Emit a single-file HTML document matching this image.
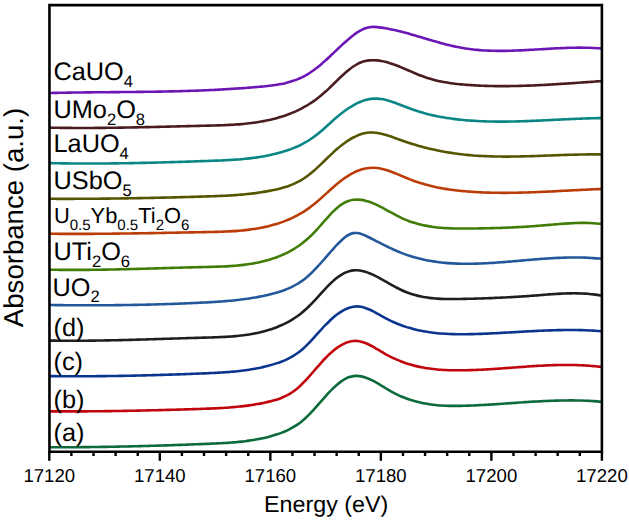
<!DOCTYPE html>
<html><head><meta charset="utf-8"><style>
html,body{margin:0;padding:0;background:#fff;width:629px;height:524px;overflow:hidden}
svg{display:block;text-rendering:geometricPrecision;font-family:"Liberation Sans",sans-serif}
</style></head><body>
<svg width="629" height="524" viewBox="0 0 629 524" font-family="Liberation Sans, sans-serif" fill="#000">
<rect width="629" height="524" fill="#fff"/>
<path d="M49.30 93.02 C49.97 93.00 51.97 92.95 53.30 92.92 C54.63 92.90 55.97 92.87 57.30 92.84 C58.63 92.81 59.97 92.79 61.30 92.76 C62.63 92.74 63.97 92.71 65.30 92.69 C66.63 92.67 67.97 92.64 69.30 92.62 C70.63 92.60 71.97 92.58 73.30 92.56 C74.63 92.54 75.97 92.52 77.30 92.51 C78.63 92.49 79.97 92.47 81.30 92.45 C82.63 92.44 83.97 92.42 85.30 92.41 C86.63 92.39 87.97 92.38 89.30 92.36 C90.63 92.35 91.97 92.34 93.30 92.32 C94.63 92.31 95.97 92.30 97.30 92.28 C98.63 92.27 99.97 92.26 101.30 92.25 C102.63 92.23 103.97 92.22 105.30 92.21 C106.63 92.20 107.97 92.19 109.30 92.18 C110.63 92.17 111.97 92.15 113.30 92.14 C114.63 92.13 115.97 92.12 117.30 92.11 C118.63 92.10 119.97 92.09 121.30 92.07 C122.63 92.06 123.97 92.05 125.30 92.04 C126.63 92.03 127.97 92.01 129.30 92.00 C130.63 91.99 131.97 91.97 133.30 91.96 C134.63 91.95 135.97 91.93 137.30 91.92 C138.63 91.90 139.97 91.89 141.30 91.87 C142.63 91.86 143.97 91.84 145.30 91.82 C146.63 91.81 147.97 91.79 149.30 91.77 C150.63 91.75 151.97 91.73 153.30 91.71 C154.63 91.69 155.97 91.67 157.30 91.65 C158.63 91.63 159.97 91.60 161.30 91.58 C162.63 91.55 163.97 91.53 165.30 91.50 C166.63 91.48 167.97 91.45 169.30 91.42 C170.63 91.39 171.97 91.36 173.30 91.33 C174.63 91.30 175.97 91.27 177.30 91.23 C178.63 91.20 179.97 91.16 181.30 91.13 C182.63 91.09 183.97 91.05 185.30 91.01 C186.63 90.97 187.97 90.93 189.30 90.89 C190.63 90.85 191.97 90.80 193.30 90.76 C194.63 90.71 195.97 90.66 197.30 90.61 C198.63 90.56 199.97 90.51 201.30 90.46 C202.63 90.40 203.97 90.35 205.30 90.29 C206.63 90.24 207.97 90.18 209.30 90.12 C210.63 90.05 211.97 89.99 213.30 89.93 C214.63 89.86 215.97 89.79 217.30 89.73 C218.63 89.66 219.97 89.58 221.30 89.51 C222.63 89.44 223.97 89.36 225.30 89.29 C226.63 89.21 227.97 89.13 229.30 89.05 C230.63 88.96 231.97 88.88 233.30 88.79 C234.63 88.71 235.97 88.62 237.30 88.53 C238.63 88.43 239.97 88.34 241.30 88.24 C242.63 88.15 243.97 88.05 245.30 87.95 C246.63 87.85 247.97 87.75 249.30 87.64 C250.63 87.53 251.97 87.43 253.30 87.31 C254.63 87.20 255.97 87.09 257.30 86.97 C258.63 86.86 259.97 86.74 261.30 86.62 C262.63 86.49 263.97 86.37 265.30 86.24 C266.63 86.11 267.97 85.97 269.30 85.82 C270.63 85.66 271.97 85.50 273.30 85.32 C274.63 85.14 275.97 84.94 277.30 84.73 C278.63 84.51 279.97 84.27 281.30 84.01 C282.63 83.74 283.97 83.46 285.30 83.14 C286.63 82.82 287.97 82.47 289.30 82.09 C290.63 81.70 291.97 81.29 293.30 80.83 C294.63 80.37 295.97 79.88 297.30 79.35 C298.63 78.81 299.97 78.23 301.30 77.60 C302.63 76.97 303.97 76.30 305.30 75.57 C306.63 74.84 307.97 74.07 309.30 73.23 C310.63 72.39 311.97 71.50 313.30 70.55 C314.63 69.60 315.97 68.58 317.30 67.52 C318.63 66.47 319.97 65.35 321.30 64.20 C322.63 63.06 323.97 61.87 325.30 60.66 C326.63 59.45 327.97 58.21 329.30 56.96 C330.63 55.71 331.97 54.43 333.30 53.17 C334.63 51.90 335.97 50.62 337.30 49.36 C338.63 48.10 339.97 46.83 341.30 45.60 C342.63 44.36 343.97 43.14 345.30 41.95 C346.63 40.77 347.97 39.61 349.30 38.50 C350.63 37.39 351.97 36.30 353.30 35.29 C354.63 34.29 355.97 33.31 357.30 32.44 C358.63 31.57 359.97 30.76 361.30 30.06 C362.63 29.37 363.97 28.75 365.30 28.28 C366.63 27.80 367.97 27.44 369.30 27.21 C370.63 26.98 371.97 26.90 373.30 26.88 C374.63 26.86 375.97 26.97 377.30 27.09 C378.63 27.21 379.97 27.40 381.30 27.59 C382.63 27.78 383.97 27.99 385.30 28.22 C386.63 28.45 387.97 28.70 389.30 28.96 C390.63 29.22 391.97 29.50 393.30 29.79 C394.63 30.08 395.97 30.38 397.30 30.70 C398.63 31.02 399.97 31.35 401.30 31.69 C402.63 32.03 403.97 32.38 405.30 32.73 C406.63 33.09 407.97 33.46 409.30 33.83 C410.63 34.21 411.97 34.59 413.30 34.97 C414.63 35.36 415.97 35.75 417.30 36.14 C418.63 36.53 419.97 36.93 421.30 37.32 C422.63 37.72 423.97 38.12 425.30 38.52 C426.63 38.91 427.97 39.31 429.30 39.71 C430.63 40.10 431.97 40.49 433.30 40.88 C434.63 41.27 435.97 41.65 437.30 42.03 C438.63 42.40 439.97 42.78 441.30 43.14 C442.63 43.50 443.97 43.86 445.30 44.20 C446.63 44.55 447.97 44.88 449.30 45.21 C450.63 45.53 451.97 45.85 453.30 46.14 C454.63 46.44 455.97 46.73 457.30 47.00 C458.63 47.27 459.97 47.52 461.30 47.76 C462.63 48.00 463.97 48.22 465.30 48.43 C466.63 48.64 467.97 48.83 469.30 49.00 C470.63 49.18 471.97 49.34 473.30 49.49 C474.63 49.64 475.97 49.77 477.30 49.90 C478.63 50.02 479.97 50.13 481.30 50.22 C482.63 50.32 483.97 50.41 485.30 50.48 C486.63 50.55 487.97 50.62 489.30 50.67 C490.63 50.72 491.97 50.76 493.30 50.79 C494.63 50.82 495.97 50.85 497.30 50.86 C498.63 50.87 499.97 50.88 501.30 50.87 C502.63 50.87 503.97 50.86 505.30 50.84 C506.63 50.82 507.97 50.80 509.30 50.76 C510.63 50.73 511.97 50.69 513.30 50.65 C514.63 50.60 515.97 50.55 517.30 50.50 C518.63 50.45 519.97 50.39 521.30 50.33 C522.63 50.26 523.97 50.20 525.30 50.13 C526.63 50.06 527.97 49.98 529.30 49.91 C530.63 49.83 531.97 49.76 533.30 49.68 C534.63 49.60 535.97 49.52 537.30 49.44 C538.63 49.36 539.97 49.28 541.30 49.20 C542.63 49.12 543.97 49.04 545.30 48.96 C546.63 48.88 547.97 48.80 549.30 48.72 C550.63 48.65 551.97 48.57 553.30 48.50 C554.63 48.43 555.97 48.36 557.30 48.29 C558.63 48.23 559.97 48.16 561.30 48.11 C562.63 48.05 563.97 47.99 565.30 47.95 C566.63 47.90 567.97 47.86 569.30 47.82 C570.63 47.78 571.97 47.75 573.30 47.73 C574.63 47.70 575.97 47.68 577.30 47.67 C578.63 47.67 579.97 47.66 581.30 47.67 C582.63 47.68 583.97 47.69 585.30 47.71 C586.63 47.74 587.97 47.77 589.30 47.82 C590.63 47.86 591.97 47.91 593.30 47.98 C594.63 48.04 595.97 48.12 597.30 48.20 C598.63 48.29 600.53 48.44 601.30 48.50 C602.07 48.56 601.80 48.55 601.90 48.55" stroke="#6c17b5" stroke-width="2.60" fill="none" stroke-linecap="butt" stroke-linejoin="round"/>
<path d="M49.30 127.63 C49.97 127.64 51.97 127.68 53.30 127.70 C54.63 127.73 55.97 127.75 57.30 127.77 C58.63 127.79 59.97 127.81 61.30 127.83 C62.63 127.84 63.97 127.86 65.30 127.87 C66.63 127.89 67.97 127.90 69.30 127.91 C70.63 127.92 71.97 127.93 73.30 127.93 C74.63 127.94 75.97 127.95 77.30 127.95 C78.63 127.95 79.97 127.96 81.30 127.96 C82.63 127.96 83.97 127.96 85.30 127.96 C86.63 127.96 87.97 127.95 89.30 127.95 C90.63 127.94 91.97 127.94 93.30 127.93 C94.63 127.93 95.97 127.92 97.30 127.91 C98.63 127.90 99.97 127.89 101.30 127.88 C102.63 127.87 103.97 127.85 105.30 127.84 C106.63 127.83 107.97 127.81 109.30 127.80 C110.63 127.78 111.97 127.76 113.30 127.74 C114.63 127.73 115.97 127.71 117.30 127.69 C118.63 127.67 119.97 127.65 121.30 127.63 C122.63 127.61 123.97 127.58 125.30 127.56 C126.63 127.54 127.97 127.51 129.30 127.49 C130.63 127.47 131.97 127.44 133.30 127.41 C134.63 127.39 135.97 127.36 137.30 127.33 C138.63 127.31 139.97 127.28 141.30 127.25 C142.63 127.22 143.97 127.19 145.30 127.17 C146.63 127.14 147.97 127.11 149.30 127.08 C150.63 127.05 151.97 127.01 153.30 126.98 C154.63 126.95 155.97 126.92 157.30 126.89 C158.63 126.86 159.97 126.83 161.30 126.79 C162.63 126.76 163.97 126.73 165.30 126.70 C166.63 126.66 167.97 126.63 169.30 126.60 C170.63 126.56 171.97 126.53 173.30 126.50 C174.63 126.46 175.97 126.43 177.30 126.40 C178.63 126.36 179.97 126.33 181.30 126.30 C182.63 126.26 183.97 126.23 185.30 126.20 C186.63 126.16 187.97 126.13 189.30 126.10 C190.63 126.06 191.97 126.03 193.30 126.00 C194.63 125.97 195.97 125.93 197.30 125.90 C198.63 125.87 199.97 125.84 201.30 125.80 C202.63 125.77 203.97 125.74 205.30 125.71 C206.63 125.68 207.97 125.65 209.30 125.62 C210.63 125.58 211.97 125.55 213.30 125.51 C214.63 125.48 215.97 125.44 217.30 125.40 C218.63 125.36 219.97 125.32 221.30 125.27 C222.63 125.22 223.97 125.17 225.30 125.11 C226.63 125.05 227.97 124.99 229.30 124.92 C230.63 124.85 231.97 124.78 233.30 124.69 C234.63 124.61 235.97 124.52 237.30 124.42 C238.63 124.32 239.97 124.22 241.30 124.10 C242.63 123.99 243.97 123.86 245.30 123.72 C246.63 123.59 247.97 123.44 249.30 123.29 C250.63 123.13 251.97 122.96 253.30 122.78 C254.63 122.60 255.97 122.41 257.30 122.20 C258.63 121.99 259.97 121.77 261.30 121.54 C262.63 121.30 263.97 121.05 265.30 120.79 C266.63 120.52 267.97 120.24 269.30 119.95 C270.63 119.65 271.97 119.34 273.30 119.01 C274.63 118.67 275.97 118.33 277.30 117.96 C278.63 117.59 279.97 117.20 281.30 116.79 C282.63 116.38 283.97 115.94 285.30 115.49 C286.63 115.03 287.97 114.54 289.30 114.03 C290.63 113.52 291.97 112.98 293.30 112.41 C294.63 111.85 295.97 111.25 297.30 110.62 C298.63 109.99 299.97 109.33 301.30 108.63 C302.63 107.93 303.97 107.20 305.30 106.43 C306.63 105.66 307.97 104.86 309.30 104.01 C310.63 103.16 311.97 102.28 313.30 101.35 C314.63 100.43 315.97 99.46 317.30 98.45 C318.63 97.43 319.97 96.38 321.30 95.27 C322.63 94.17 323.97 93.01 325.30 91.82 C326.63 90.62 327.97 89.37 329.30 88.10 C330.63 86.84 331.97 85.53 333.30 84.23 C334.63 82.93 335.97 81.61 337.30 80.31 C338.63 79.02 339.97 77.72 341.30 76.47 C342.63 75.22 343.97 73.98 345.30 72.81 C346.63 71.64 347.97 70.50 349.30 69.45 C350.63 68.40 351.97 67.41 353.30 66.51 C354.63 65.62 355.97 64.80 357.30 64.10 C358.63 63.40 359.97 62.81 361.30 62.31 C362.63 61.81 363.97 61.41 365.30 61.10 C366.63 60.78 367.97 60.56 369.30 60.41 C370.63 60.27 371.97 60.20 373.30 60.20 C374.63 60.20 375.97 60.28 377.30 60.41 C378.63 60.54 379.97 60.74 381.30 60.98 C382.63 61.22 383.97 61.52 385.30 61.85 C386.63 62.18 387.97 62.56 389.30 62.97 C390.63 63.38 391.97 63.82 393.30 64.29 C394.63 64.76 395.97 65.26 397.30 65.78 C398.63 66.30 399.97 66.84 401.30 67.39 C402.63 67.94 403.97 68.51 405.30 69.08 C406.63 69.65 407.97 70.23 409.30 70.80 C410.63 71.38 411.97 71.96 413.30 72.52 C414.63 73.09 415.97 73.66 417.30 74.20 C418.63 74.74 419.97 75.28 421.30 75.79 C422.63 76.30 423.97 76.79 425.30 77.25 C426.63 77.71 427.97 78.14 429.30 78.55 C430.63 78.96 431.97 79.34 433.30 79.69 C434.63 80.05 435.97 80.38 437.30 80.69 C438.63 81.00 439.97 81.29 441.30 81.56 C442.63 81.83 443.97 82.08 445.30 82.31 C446.63 82.54 447.97 82.76 449.30 82.96 C450.63 83.16 451.97 83.34 453.30 83.51 C454.63 83.68 455.97 83.83 457.30 83.98 C458.63 84.12 459.97 84.25 461.30 84.38 C462.63 84.50 463.97 84.61 465.30 84.72 C466.63 84.83 467.97 84.93 469.30 85.02 C470.63 85.11 471.97 85.20 473.30 85.28 C474.63 85.36 475.97 85.43 477.30 85.50 C478.63 85.57 479.97 85.63 481.30 85.69 C482.63 85.75 483.97 85.80 485.30 85.84 C486.63 85.89 487.97 85.93 489.30 85.96 C490.63 85.99 491.97 86.02 493.30 86.05 C494.63 86.07 495.97 86.09 497.30 86.10 C498.63 86.12 499.97 86.12 501.30 86.13 C502.63 86.13 503.97 86.13 505.30 86.13 C506.63 86.12 507.97 86.11 509.30 86.10 C510.63 86.08 511.97 86.07 513.30 86.04 C514.63 86.02 515.97 86.00 517.30 85.97 C518.63 85.94 519.97 85.90 521.30 85.87 C522.63 85.83 523.97 85.79 525.30 85.74 C526.63 85.70 527.97 85.65 529.30 85.60 C530.63 85.55 531.97 85.50 533.30 85.44 C534.63 85.38 535.97 85.32 537.30 85.26 C538.63 85.20 539.97 85.13 541.30 85.07 C542.63 85.00 543.97 84.93 545.30 84.86 C546.63 84.79 547.97 84.71 549.30 84.64 C550.63 84.56 551.97 84.48 553.30 84.40 C554.63 84.32 555.97 84.24 557.30 84.16 C558.63 84.07 559.97 83.99 561.30 83.90 C562.63 83.82 563.97 83.73 565.30 83.64 C566.63 83.55 567.97 83.46 569.30 83.37 C570.63 83.28 571.97 83.19 573.30 83.10 C574.63 83.00 575.97 82.91 577.30 82.82 C578.63 82.73 579.97 82.63 581.30 82.54 C582.63 82.44 583.97 82.35 585.30 82.26 C586.63 82.16 587.97 82.07 589.30 81.97 C590.63 81.88 591.97 81.79 593.30 81.69 C594.63 81.60 595.97 81.51 597.30 81.41 C598.63 81.32 600.53 81.19 601.30 81.14 C602.07 81.09 601.80 81.11 601.90 81.10" stroke="#4a1c20" stroke-width="2.60" fill="none" stroke-linecap="butt" stroke-linejoin="round"/>
<path d="M49.30 163.12 C49.97 163.13 51.97 163.17 53.30 163.20 C54.63 163.22 55.97 163.25 57.30 163.27 C58.63 163.29 59.97 163.32 61.30 163.34 C62.63 163.36 63.97 163.37 65.30 163.39 C66.63 163.41 67.97 163.42 69.30 163.44 C70.63 163.45 71.97 163.46 73.30 163.47 C74.63 163.48 75.97 163.49 77.30 163.50 C78.63 163.51 79.97 163.51 81.30 163.52 C82.63 163.52 83.97 163.53 85.30 163.53 C86.63 163.53 87.97 163.53 89.30 163.53 C90.63 163.53 91.97 163.53 93.30 163.52 C94.63 163.52 95.97 163.52 97.30 163.51 C98.63 163.51 99.97 163.50 101.30 163.49 C102.63 163.48 103.97 163.47 105.30 163.46 C106.63 163.45 107.97 163.44 109.30 163.43 C110.63 163.42 111.97 163.40 113.30 163.39 C114.63 163.37 115.97 163.36 117.30 163.34 C118.63 163.32 119.97 163.30 121.30 163.28 C122.63 163.26 123.97 163.24 125.30 163.22 C126.63 163.20 127.97 163.18 129.30 163.15 C130.63 163.13 131.97 163.11 133.30 163.08 C134.63 163.06 135.97 163.03 137.30 163.00 C138.63 162.98 139.97 162.95 141.30 162.92 C142.63 162.89 143.97 162.86 145.30 162.83 C146.63 162.80 147.97 162.77 149.30 162.74 C150.63 162.71 151.97 162.67 153.30 162.64 C154.63 162.61 155.97 162.57 157.30 162.54 C158.63 162.50 159.97 162.47 161.30 162.43 C162.63 162.39 163.97 162.36 165.30 162.32 C166.63 162.28 167.97 162.24 169.30 162.20 C170.63 162.16 171.97 162.12 173.30 162.08 C174.63 162.04 175.97 162.00 177.30 161.96 C178.63 161.92 179.97 161.88 181.30 161.84 C182.63 161.79 183.97 161.75 185.30 161.71 C186.63 161.66 187.97 161.62 189.30 161.58 C190.63 161.53 191.97 161.49 193.30 161.44 C194.63 161.40 195.97 161.35 197.30 161.31 C198.63 161.26 199.97 161.22 201.30 161.17 C202.63 161.12 203.97 161.08 205.30 161.03 C206.63 160.98 207.97 160.93 209.30 160.89 C210.63 160.84 211.97 160.79 213.30 160.74 C214.63 160.69 215.97 160.65 217.30 160.59 C218.63 160.54 219.97 160.49 221.30 160.43 C222.63 160.37 223.97 160.31 225.30 160.25 C226.63 160.18 227.97 160.11 229.30 160.04 C230.63 159.97 231.97 159.89 233.30 159.80 C234.63 159.71 235.97 159.62 237.30 159.52 C238.63 159.42 239.97 159.32 241.30 159.20 C242.63 159.09 243.97 158.97 245.30 158.83 C246.63 158.70 247.97 158.56 249.30 158.40 C250.63 158.25 251.97 158.09 253.30 157.91 C254.63 157.74 255.97 157.55 257.30 157.36 C258.63 157.16 259.97 156.95 261.30 156.72 C262.63 156.50 263.97 156.26 265.30 156.01 C266.63 155.75 267.97 155.49 269.30 155.20 C270.63 154.92 271.97 154.62 273.30 154.31 C274.63 153.99 275.97 153.66 277.30 153.31 C278.63 152.96 279.97 152.59 281.30 152.21 C282.63 151.82 283.97 151.42 285.30 150.99 C286.63 150.56 287.97 150.12 289.30 149.65 C290.63 149.17 291.97 148.68 293.30 148.14 C294.63 147.61 295.97 147.06 297.30 146.46 C298.63 145.86 299.97 145.23 301.30 144.55 C302.63 143.87 303.97 143.16 305.30 142.40 C306.63 141.64 307.97 140.83 309.30 139.97 C310.63 139.11 311.97 138.20 313.30 137.24 C314.63 136.27 315.97 135.24 317.30 134.19 C318.63 133.13 319.97 132.01 321.30 130.89 C322.63 129.76 323.97 128.59 325.30 127.42 C326.63 126.25 327.97 125.06 329.30 123.87 C330.63 122.69 331.97 121.49 333.30 120.33 C334.63 119.16 335.97 117.99 337.30 116.86 C338.63 115.74 339.97 114.63 341.30 113.57 C342.63 112.51 343.97 111.49 345.30 110.52 C346.63 109.55 347.97 108.62 349.30 107.75 C350.63 106.88 351.97 106.06 353.30 105.30 C354.63 104.54 355.97 103.83 357.30 103.18 C358.63 102.54 359.97 101.95 361.30 101.43 C362.63 100.92 363.97 100.46 365.30 100.08 C366.63 99.70 367.97 99.38 369.30 99.14 C370.63 98.91 371.97 98.74 373.30 98.66 C374.63 98.57 375.97 98.57 377.30 98.64 C378.63 98.70 379.97 98.85 381.30 99.05 C382.63 99.25 383.97 99.52 385.30 99.83 C386.63 100.14 387.97 100.51 389.30 100.90 C390.63 101.30 391.97 101.74 393.30 102.20 C394.63 102.66 395.97 103.16 397.30 103.66 C398.63 104.17 399.97 104.70 401.30 105.22 C402.63 105.74 403.97 106.27 405.30 106.79 C406.63 107.31 407.97 107.83 409.30 108.32 C410.63 108.82 411.97 109.30 413.30 109.76 C414.63 110.21 415.97 110.66 417.30 111.08 C418.63 111.50 419.97 111.91 421.30 112.30 C422.63 112.69 423.97 113.06 425.30 113.42 C426.63 113.78 427.97 114.12 429.30 114.45 C430.63 114.78 431.97 115.09 433.30 115.39 C434.63 115.69 435.97 115.97 437.30 116.24 C438.63 116.51 439.97 116.77 441.30 117.01 C442.63 117.26 443.97 117.49 445.30 117.71 C446.63 117.93 447.97 118.13 449.30 118.33 C450.63 118.53 451.97 118.71 453.30 118.88 C454.63 119.06 455.97 119.22 457.30 119.37 C458.63 119.53 459.97 119.67 461.30 119.81 C462.63 119.94 463.97 120.06 465.30 120.18 C466.63 120.30 467.97 120.41 469.30 120.51 C470.63 120.61 471.97 120.70 473.30 120.79 C474.63 120.87 475.97 120.95 477.30 121.02 C478.63 121.09 479.97 121.16 481.30 121.21 C482.63 121.27 483.97 121.32 485.30 121.37 C486.63 121.41 487.97 121.45 489.30 121.48 C490.63 121.51 491.97 121.54 493.30 121.56 C494.63 121.58 495.97 121.59 497.30 121.60 C498.63 121.61 499.97 121.62 501.30 121.61 C502.63 121.61 503.97 121.61 505.30 121.60 C506.63 121.59 507.97 121.57 509.30 121.55 C510.63 121.53 511.97 121.51 513.30 121.48 C514.63 121.46 515.97 121.43 517.30 121.39 C518.63 121.36 519.97 121.32 521.30 121.28 C522.63 121.24 523.97 121.20 525.30 121.15 C526.63 121.10 527.97 121.06 529.30 121.00 C530.63 120.95 531.97 120.90 533.30 120.84 C534.63 120.79 535.97 120.73 537.30 120.67 C538.63 120.61 539.97 120.55 541.30 120.49 C542.63 120.43 543.97 120.36 545.30 120.30 C546.63 120.24 547.97 120.17 549.30 120.11 C550.63 120.04 551.97 119.97 553.30 119.91 C554.63 119.84 555.97 119.78 557.30 119.71 C558.63 119.64 559.97 119.58 561.30 119.51 C562.63 119.45 563.97 119.38 565.30 119.32 C566.63 119.26 567.97 119.19 569.30 119.13 C570.63 119.07 571.97 119.01 573.30 118.95 C574.63 118.89 575.97 118.84 577.30 118.78 C578.63 118.73 579.97 118.68 581.30 118.63 C582.63 118.58 583.97 118.53 585.30 118.48 C586.63 118.44 587.97 118.40 589.30 118.36 C590.63 118.32 591.97 118.28 593.30 118.25 C594.63 118.22 595.97 118.19 597.30 118.17 C598.63 118.14 600.53 118.12 601.30 118.10 C602.07 118.09 601.80 118.10 601.90 118.10" stroke="#0b8686" stroke-width="2.60" fill="none" stroke-linecap="butt" stroke-linejoin="round"/>
<path d="M49.30 198.80 C49.97 198.80 51.97 198.81 53.30 198.82 C54.63 198.82 55.97 198.82 57.30 198.83 C58.63 198.83 59.97 198.83 61.30 198.83 C62.63 198.83 63.97 198.84 65.30 198.84 C66.63 198.83 67.97 198.83 69.30 198.83 C70.63 198.83 71.97 198.83 73.30 198.83 C74.63 198.82 75.97 198.82 77.30 198.81 C78.63 198.81 79.97 198.81 81.30 198.80 C82.63 198.79 83.97 198.79 85.30 198.78 C86.63 198.77 87.97 198.76 89.30 198.76 C90.63 198.75 91.97 198.74 93.30 198.73 C94.63 198.72 95.97 198.71 97.30 198.70 C98.63 198.68 99.97 198.67 101.30 198.66 C102.63 198.65 103.97 198.63 105.30 198.62 C106.63 198.61 107.97 198.59 109.30 198.58 C110.63 198.56 111.97 198.54 113.30 198.53 C114.63 198.51 115.97 198.49 117.30 198.48 C118.63 198.46 119.97 198.44 121.30 198.42 C122.63 198.40 123.97 198.38 125.30 198.36 C126.63 198.34 127.97 198.32 129.30 198.30 C130.63 198.28 131.97 198.26 133.30 198.23 C134.63 198.21 135.97 198.19 137.30 198.16 C138.63 198.14 139.97 198.11 141.30 198.09 C142.63 198.06 143.97 198.04 145.30 198.01 C146.63 197.99 147.97 197.96 149.30 197.93 C150.63 197.90 151.97 197.88 153.30 197.85 C154.63 197.82 155.97 197.79 157.30 197.76 C158.63 197.73 159.97 197.70 161.30 197.67 C162.63 197.64 163.97 197.61 165.30 197.58 C166.63 197.55 167.97 197.51 169.30 197.48 C170.63 197.45 171.97 197.41 173.30 197.38 C174.63 197.35 175.97 197.31 177.30 197.28 C178.63 197.24 179.97 197.21 181.30 197.17 C182.63 197.14 183.97 197.10 185.30 197.06 C186.63 197.03 187.97 196.99 189.30 196.95 C190.63 196.91 191.97 196.87 193.30 196.84 C194.63 196.80 195.97 196.76 197.30 196.72 C198.63 196.68 199.97 196.64 201.30 196.60 C202.63 196.56 203.97 196.52 205.30 196.47 C206.63 196.43 207.97 196.39 209.30 196.35 C210.63 196.30 211.97 196.26 213.30 196.21 C214.63 196.16 215.97 196.11 217.30 196.06 C218.63 196.00 219.97 195.95 221.30 195.89 C222.63 195.83 223.97 195.77 225.30 195.70 C226.63 195.63 227.97 195.56 229.30 195.48 C230.63 195.40 231.97 195.32 233.30 195.23 C234.63 195.14 235.97 195.05 237.30 194.95 C238.63 194.85 239.97 194.74 241.30 194.63 C242.63 194.51 243.97 194.39 245.30 194.26 C246.63 194.13 247.97 193.99 249.30 193.84 C250.63 193.69 251.97 193.54 253.30 193.37 C254.63 193.20 255.97 193.03 257.30 192.84 C258.63 192.66 259.97 192.46 261.30 192.25 C262.63 192.05 263.97 191.83 265.30 191.60 C266.63 191.37 267.97 191.13 269.30 190.87 C270.63 190.62 271.97 190.35 273.30 190.07 C274.63 189.79 275.97 189.50 277.30 189.18 C278.63 188.87 279.97 188.54 281.30 188.18 C282.63 187.82 283.97 187.44 285.30 187.02 C286.63 186.60 287.97 186.15 289.30 185.66 C290.63 185.17 291.97 184.64 293.30 184.07 C294.63 183.49 295.97 182.87 297.30 182.20 C298.63 181.52 299.97 180.80 301.30 180.01 C302.63 179.22 303.97 178.38 305.30 177.47 C306.63 176.55 307.97 175.57 309.30 174.53 C310.63 173.49 311.97 172.37 313.30 171.22 C314.63 170.07 315.97 168.86 317.30 167.63 C318.63 166.40 319.97 165.13 321.30 163.85 C322.63 162.58 323.97 161.27 325.30 159.99 C326.63 158.70 327.97 157.39 329.30 156.12 C330.63 154.85 331.97 153.58 333.30 152.36 C334.63 151.14 335.97 149.93 337.30 148.79 C338.63 147.64 339.97 146.53 341.30 145.48 C342.63 144.43 343.97 143.42 345.30 142.48 C346.63 141.53 347.97 140.64 349.30 139.81 C350.63 138.98 351.97 138.20 353.30 137.50 C354.63 136.80 355.97 136.16 357.30 135.59 C358.63 135.03 359.97 134.53 361.30 134.11 C362.63 133.69 363.97 133.35 365.30 133.09 C366.63 132.83 367.97 132.65 369.30 132.56 C370.63 132.46 371.97 132.46 373.30 132.52 C374.63 132.58 375.97 132.73 377.30 132.92 C378.63 133.11 379.97 133.38 381.30 133.68 C382.63 133.98 383.97 134.34 385.30 134.72 C386.63 135.10 387.97 135.54 389.30 135.98 C390.63 136.42 391.97 136.90 393.30 137.38 C394.63 137.86 395.97 138.36 397.30 138.85 C398.63 139.34 399.97 139.84 401.30 140.32 C402.63 140.80 403.97 141.27 405.30 141.72 C406.63 142.18 407.97 142.62 409.30 143.05 C410.63 143.49 411.97 143.91 413.30 144.31 C414.63 144.72 415.97 145.12 417.30 145.50 C418.63 145.88 419.97 146.26 421.30 146.62 C422.63 146.98 423.97 147.33 425.30 147.67 C426.63 148.00 427.97 148.33 429.30 148.65 C430.63 148.96 431.97 149.27 433.30 149.56 C434.63 149.86 435.97 150.14 437.30 150.42 C438.63 150.69 439.97 150.95 441.30 151.21 C442.63 151.46 443.97 151.70 445.30 151.93 C446.63 152.17 447.97 152.39 449.30 152.60 C450.63 152.81 451.97 153.02 453.30 153.21 C454.63 153.40 455.97 153.59 457.30 153.76 C458.63 153.94 459.97 154.10 461.30 154.26 C462.63 154.41 463.97 154.56 465.30 154.70 C466.63 154.84 467.97 154.97 469.30 155.09 C470.63 155.21 471.97 155.32 473.30 155.43 C474.63 155.53 475.97 155.63 477.30 155.71 C478.63 155.80 479.97 155.88 481.30 155.96 C482.63 156.03 483.97 156.10 485.30 156.16 C486.63 156.22 487.97 156.27 489.30 156.31 C490.63 156.36 491.97 156.40 493.30 156.43 C494.63 156.47 495.97 156.50 497.30 156.52 C498.63 156.54 499.97 156.56 501.30 156.57 C502.63 156.58 503.97 156.59 505.30 156.59 C506.63 156.59 507.97 156.59 509.30 156.58 C510.63 156.57 511.97 156.56 513.30 156.55 C514.63 156.53 515.97 156.51 517.30 156.49 C518.63 156.47 519.97 156.44 521.30 156.41 C522.63 156.38 523.97 156.35 525.30 156.31 C526.63 156.28 527.97 156.24 529.30 156.20 C530.63 156.16 531.97 156.12 533.30 156.08 C534.63 156.04 535.97 155.99 537.30 155.94 C538.63 155.90 539.97 155.85 541.30 155.80 C542.63 155.75 543.97 155.70 545.30 155.65 C546.63 155.60 547.97 155.55 549.30 155.50 C550.63 155.45 551.97 155.40 553.30 155.35 C554.63 155.30 555.97 155.25 557.30 155.20 C558.63 155.15 559.97 155.11 561.30 155.06 C562.63 155.01 563.97 154.97 565.30 154.92 C566.63 154.88 567.97 154.84 569.30 154.80 C570.63 154.76 571.97 154.72 573.30 154.68 C574.63 154.65 575.97 154.62 577.30 154.59 C578.63 154.56 579.97 154.53 581.30 154.50 C582.63 154.48 583.97 154.46 585.30 154.44 C586.63 154.43 587.97 154.41 589.30 154.41 C590.63 154.40 591.97 154.39 593.30 154.39 C594.63 154.39 595.97 154.40 597.30 154.41 C598.63 154.42 600.53 154.44 601.30 154.45 C602.07 154.46 601.80 154.46 601.90 154.46" stroke="#555500" stroke-width="2.60" fill="none" stroke-linecap="butt" stroke-linejoin="round"/>
<path d="M49.30 233.75 C49.97 233.76 51.97 233.78 53.30 233.79 C54.63 233.80 55.97 233.81 57.30 233.82 C58.63 233.83 59.97 233.84 61.30 233.84 C62.63 233.85 63.97 233.86 65.30 233.86 C66.63 233.87 67.97 233.87 69.30 233.87 C70.63 233.88 71.97 233.88 73.30 233.88 C74.63 233.88 75.97 233.88 77.30 233.88 C78.63 233.88 79.97 233.88 81.30 233.88 C82.63 233.87 83.97 233.87 85.30 233.87 C86.63 233.86 87.97 233.86 89.30 233.85 C90.63 233.85 91.97 233.84 93.30 233.83 C94.63 233.82 95.97 233.81 97.30 233.81 C98.63 233.80 99.97 233.79 101.30 233.78 C102.63 233.77 103.97 233.75 105.30 233.74 C106.63 233.73 107.97 233.72 109.30 233.71 C110.63 233.69 111.97 233.68 113.30 233.66 C114.63 233.65 115.97 233.63 117.30 233.62 C118.63 233.60 119.97 233.59 121.30 233.57 C122.63 233.55 123.97 233.54 125.30 233.52 C126.63 233.50 127.97 233.48 129.30 233.46 C130.63 233.44 131.97 233.42 133.30 233.40 C134.63 233.38 135.97 233.36 137.30 233.34 C138.63 233.32 139.97 233.30 141.30 233.28 C142.63 233.26 143.97 233.24 145.30 233.22 C146.63 233.19 147.97 233.17 149.30 233.15 C150.63 233.13 151.97 233.10 153.30 233.08 C154.63 233.06 155.97 233.03 157.30 233.01 C158.63 232.99 159.97 232.96 161.30 232.94 C162.63 232.91 163.97 232.89 165.30 232.86 C166.63 232.84 167.97 232.81 169.30 232.79 C170.63 232.77 171.97 232.74 173.30 232.72 C174.63 232.69 175.97 232.66 177.30 232.64 C178.63 232.61 179.97 232.59 181.30 232.56 C182.63 232.54 183.97 232.51 185.30 232.49 C186.63 232.46 187.97 232.44 189.30 232.41 C190.63 232.39 191.97 232.36 193.30 232.34 C194.63 232.31 195.97 232.29 197.30 232.26 C198.63 232.24 199.97 232.21 201.30 232.19 C202.63 232.16 203.97 232.14 205.30 232.11 C206.63 232.09 207.97 232.06 209.30 232.04 C210.63 232.01 211.97 231.98 213.30 231.95 C214.63 231.92 215.97 231.89 217.30 231.85 C218.63 231.81 219.97 231.77 221.30 231.73 C222.63 231.68 223.97 231.63 225.30 231.57 C226.63 231.52 227.97 231.45 229.30 231.38 C230.63 231.31 231.97 231.24 233.30 231.15 C234.63 231.06 235.97 230.97 237.30 230.86 C238.63 230.76 239.97 230.65 241.30 230.52 C242.63 230.40 243.97 230.26 245.30 230.11 C246.63 229.97 247.97 229.81 249.30 229.63 C250.63 229.46 251.97 229.28 253.30 229.08 C254.63 228.87 255.97 228.66 257.30 228.43 C258.63 228.20 259.97 227.96 261.30 227.69 C262.63 227.43 263.97 227.15 265.30 226.86 C266.63 226.56 267.97 226.25 269.30 225.91 C270.63 225.58 271.97 225.23 273.30 224.86 C274.63 224.48 275.97 224.09 277.30 223.68 C278.63 223.26 279.97 222.82 281.30 222.36 C282.63 221.89 283.97 221.41 285.30 220.89 C286.63 220.37 287.97 219.82 289.30 219.24 C290.63 218.67 291.97 218.06 293.30 217.41 C294.63 216.77 295.97 216.09 297.30 215.38 C298.63 214.66 299.97 213.91 301.30 213.12 C302.63 212.32 303.97 211.49 305.30 210.62 C306.63 209.74 307.97 208.83 309.30 207.86 C310.63 206.90 311.97 205.89 313.30 204.83 C314.63 203.78 315.97 202.67 317.30 201.53 C318.63 200.40 319.97 199.21 321.30 198.03 C322.63 196.84 323.97 195.62 325.30 194.41 C326.63 193.20 327.97 191.97 329.30 190.76 C330.63 189.55 331.97 188.34 333.30 187.17 C334.63 186.00 335.97 184.84 337.30 183.73 C338.63 182.62 339.97 181.53 341.30 180.52 C342.63 179.50 343.97 178.52 345.30 177.61 C346.63 176.71 347.97 175.85 349.30 175.06 C350.63 174.26 351.97 173.53 353.30 172.86 C354.63 172.19 355.97 171.57 357.30 171.03 C358.63 170.49 359.97 170.01 361.30 169.59 C362.63 169.18 363.97 168.83 365.30 168.56 C366.63 168.29 367.97 168.08 369.30 167.95 C370.63 167.81 371.97 167.75 373.30 167.77 C374.63 167.78 375.97 167.88 377.30 168.03 C378.63 168.19 379.97 168.43 381.30 168.71 C382.63 168.99 383.97 169.33 385.30 169.72 C386.63 170.10 387.97 170.54 389.30 171.00 C390.63 171.46 391.97 171.97 393.30 172.49 C394.63 173.01 395.97 173.56 397.30 174.11 C398.63 174.67 399.97 175.24 401.30 175.81 C402.63 176.37 403.97 176.95 405.30 177.51 C406.63 178.07 407.97 178.62 409.30 179.15 C410.63 179.67 411.97 180.18 413.30 180.67 C414.63 181.15 415.97 181.62 417.30 182.06 C418.63 182.51 419.97 182.94 421.30 183.34 C422.63 183.75 423.97 184.14 425.30 184.51 C426.63 184.88 427.97 185.24 429.30 185.57 C430.63 185.91 431.97 186.23 433.30 186.53 C434.63 186.84 435.97 187.13 437.30 187.40 C438.63 187.68 439.97 187.93 441.30 188.18 C442.63 188.43 443.97 188.66 445.30 188.88 C446.63 189.10 447.97 189.30 449.30 189.50 C450.63 189.69 451.97 189.87 453.30 190.04 C454.63 190.21 455.97 190.37 457.30 190.52 C458.63 190.68 459.97 190.82 461.30 190.95 C462.63 191.08 463.97 191.20 465.30 191.32 C466.63 191.43 467.97 191.54 469.30 191.64 C470.63 191.73 471.97 191.83 473.30 191.91 C474.63 192.00 475.97 192.08 477.30 192.15 C478.63 192.22 479.97 192.29 481.30 192.35 C482.63 192.41 483.97 192.46 485.30 192.51 C486.63 192.56 487.97 192.60 489.30 192.64 C490.63 192.68 491.97 192.71 493.30 192.73 C494.63 192.76 495.97 192.78 497.30 192.80 C498.63 192.81 499.97 192.82 501.30 192.83 C502.63 192.84 503.97 192.84 505.30 192.84 C506.63 192.83 507.97 192.83 509.30 192.81 C510.63 192.80 511.97 192.79 513.30 192.77 C514.63 192.75 515.97 192.73 517.30 192.70 C518.63 192.67 519.97 192.64 521.30 192.61 C522.63 192.58 523.97 192.54 525.30 192.50 C526.63 192.46 527.97 192.42 529.30 192.37 C530.63 192.33 531.97 192.28 533.30 192.23 C534.63 192.18 535.97 192.13 537.30 192.07 C538.63 192.02 539.97 191.96 541.30 191.90 C542.63 191.84 543.97 191.78 545.30 191.72 C546.63 191.66 547.97 191.60 549.30 191.53 C550.63 191.47 551.97 191.40 553.30 191.33 C554.63 191.27 555.97 191.20 557.30 191.13 C558.63 191.06 559.97 190.99 561.30 190.92 C562.63 190.85 563.97 190.78 565.30 190.71 C566.63 190.64 567.97 190.57 569.30 190.50 C570.63 190.43 571.97 190.36 573.30 190.29 C574.63 190.22 575.97 190.15 577.30 190.08 C578.63 190.01 579.97 189.94 581.30 189.88 C582.63 189.81 583.97 189.74 585.30 189.68 C586.63 189.61 587.97 189.55 589.30 189.49 C590.63 189.43 591.97 189.37 593.30 189.31 C594.63 189.25 595.97 189.19 597.30 189.14 C598.63 189.08 600.53 189.01 601.30 188.98 C602.07 188.95 601.80 188.96 601.90 188.96" stroke="#bb3c06" stroke-width="2.60" fill="none" stroke-linecap="butt" stroke-linejoin="round"/>
<path d="M49.30 269.68 C49.97 269.70 51.97 269.73 53.30 269.75 C54.63 269.77 55.97 269.79 57.30 269.81 C58.63 269.83 59.97 269.84 61.30 269.85 C62.63 269.87 63.97 269.88 65.30 269.88 C66.63 269.89 67.97 269.90 69.30 269.90 C70.63 269.91 71.97 269.91 73.30 269.91 C74.63 269.91 75.97 269.91 77.30 269.91 C78.63 269.91 79.97 269.90 81.30 269.90 C82.63 269.89 83.97 269.88 85.30 269.87 C86.63 269.86 87.97 269.85 89.30 269.84 C90.63 269.83 91.97 269.82 93.30 269.80 C94.63 269.79 95.97 269.77 97.30 269.75 C98.63 269.73 99.97 269.71 101.30 269.69 C102.63 269.67 103.97 269.65 105.30 269.63 C106.63 269.61 107.97 269.58 109.30 269.56 C110.63 269.53 111.97 269.51 113.30 269.48 C114.63 269.45 115.97 269.42 117.30 269.39 C118.63 269.37 119.97 269.34 121.30 269.30 C122.63 269.27 123.97 269.24 125.30 269.21 C126.63 269.18 127.97 269.14 129.30 269.11 C130.63 269.08 131.97 269.04 133.30 269.01 C134.63 268.97 135.97 268.94 137.30 268.90 C138.63 268.86 139.97 268.83 141.30 268.79 C142.63 268.75 143.97 268.71 145.30 268.68 C146.63 268.64 147.97 268.60 149.30 268.56 C150.63 268.52 151.97 268.48 153.30 268.44 C154.63 268.41 155.97 268.37 157.30 268.33 C158.63 268.29 159.97 268.25 161.30 268.21 C162.63 268.17 163.97 268.13 165.30 268.09 C166.63 268.05 167.97 268.01 169.30 267.97 C170.63 267.93 171.97 267.89 173.30 267.85 C174.63 267.81 175.97 267.77 177.30 267.74 C178.63 267.70 179.97 267.66 181.30 267.62 C182.63 267.58 183.97 267.54 185.30 267.51 C186.63 267.47 187.97 267.43 189.30 267.40 C190.63 267.36 191.97 267.32 193.30 267.29 C194.63 267.25 195.97 267.22 197.30 267.18 C198.63 267.15 199.97 267.12 201.30 267.08 C202.63 267.05 203.97 267.02 205.30 266.99 C206.63 266.96 207.97 266.93 209.30 266.89 C210.63 266.86 211.97 266.83 213.30 266.79 C214.63 266.76 215.97 266.72 217.30 266.67 C218.63 266.63 219.97 266.58 221.30 266.53 C222.63 266.48 223.97 266.42 225.30 266.35 C226.63 266.29 227.97 266.21 229.30 266.13 C230.63 266.05 231.97 265.96 233.30 265.86 C234.63 265.76 235.97 265.65 237.30 265.53 C238.63 265.41 239.97 265.27 241.30 265.13 C242.63 264.98 243.97 264.82 245.30 264.65 C246.63 264.47 247.97 264.29 249.30 264.08 C250.63 263.88 251.97 263.66 253.30 263.42 C254.63 263.19 255.97 262.93 257.30 262.66 C258.63 262.39 259.97 262.10 261.30 261.78 C262.63 261.47 263.97 261.14 265.30 260.78 C266.63 260.43 267.97 260.06 269.30 259.66 C270.63 259.26 271.97 258.84 273.30 258.39 C274.63 257.94 275.97 257.47 277.30 256.97 C278.63 256.47 279.97 255.95 281.30 255.38 C282.63 254.82 283.97 254.23 285.30 253.60 C286.63 252.96 287.97 252.30 289.30 251.59 C290.63 250.87 291.97 250.12 293.30 249.32 C294.63 248.52 295.97 247.68 297.30 246.78 C298.63 245.89 299.97 244.94 301.30 243.94 C302.63 242.94 303.97 241.89 305.30 240.77 C306.63 239.66 307.97 238.49 309.30 237.25 C310.63 236.01 311.97 234.71 313.30 233.34 C314.63 231.98 315.97 230.53 317.30 229.07 C318.63 227.60 319.97 226.07 321.30 224.56 C322.63 223.05 323.97 221.49 325.30 219.99 C326.63 218.49 327.97 216.97 329.30 215.54 C330.63 214.10 331.97 212.68 333.30 211.37 C334.63 210.05 335.97 208.79 337.30 207.65 C338.63 206.52 339.97 205.47 341.30 204.57 C342.63 203.67 343.97 202.90 345.30 202.25 C346.63 201.60 347.97 201.10 349.30 200.69 C350.63 200.29 351.97 200.01 353.30 199.82 C354.63 199.64 355.97 199.57 357.30 199.58 C358.63 199.59 359.97 199.70 361.30 199.88 C362.63 200.06 363.97 200.33 365.30 200.66 C366.63 200.99 367.97 201.40 369.30 201.85 C370.63 202.31 371.97 202.83 373.30 203.39 C374.63 203.94 375.97 204.56 377.30 205.19 C378.63 205.83 379.97 206.51 381.30 207.20 C382.63 207.89 383.97 208.61 385.30 209.34 C386.63 210.06 387.97 210.81 389.30 211.54 C390.63 212.27 391.97 213.01 393.30 213.73 C394.63 214.45 395.97 215.17 397.30 215.85 C398.63 216.53 399.97 217.20 401.30 217.82 C402.63 218.44 403.97 219.03 405.30 219.59 C406.63 220.15 407.97 220.67 409.30 221.16 C410.63 221.65 411.97 222.10 413.30 222.53 C414.63 222.96 415.97 223.35 417.30 223.72 C418.63 224.09 419.97 224.43 421.30 224.75 C422.63 225.07 423.97 225.36 425.30 225.62 C426.63 225.89 427.97 226.13 429.30 226.35 C430.63 226.57 431.97 226.77 433.30 226.95 C434.63 227.13 435.97 227.29 437.30 227.43 C438.63 227.58 439.97 227.70 441.30 227.81 C442.63 227.92 443.97 228.01 445.30 228.09 C446.63 228.18 447.97 228.24 449.30 228.30 C450.63 228.35 451.97 228.39 453.30 228.43 C454.63 228.46 455.97 228.49 457.30 228.51 C458.63 228.52 459.97 228.53 461.30 228.54 C462.63 228.54 463.97 228.54 465.30 228.54 C466.63 228.54 467.97 228.53 469.30 228.52 C470.63 228.51 471.97 228.50 473.30 228.49 C474.63 228.47 475.97 228.46 477.30 228.44 C478.63 228.42 479.97 228.40 481.30 228.38 C482.63 228.36 483.97 228.34 485.30 228.31 C486.63 228.28 487.97 228.25 489.30 228.22 C490.63 228.19 491.97 228.16 493.30 228.12 C494.63 228.08 495.97 228.04 497.30 228.00 C498.63 227.96 499.97 227.91 501.30 227.87 C502.63 227.82 503.97 227.77 505.30 227.72 C506.63 227.67 507.97 227.61 509.30 227.55 C510.63 227.49 511.97 227.43 513.30 227.37 C514.63 227.30 515.97 227.24 517.30 227.17 C518.63 227.10 519.97 227.02 521.30 226.95 C522.63 226.87 523.97 226.79 525.30 226.71 C526.63 226.63 527.97 226.54 529.30 226.45 C530.63 226.36 531.97 226.27 533.30 226.18 C534.63 226.08 535.97 225.98 537.30 225.88 C538.63 225.78 539.97 225.67 541.30 225.56 C542.63 225.46 543.97 225.34 545.30 225.23 C546.63 225.11 547.97 225.00 549.30 224.88 C550.63 224.77 551.97 224.65 553.30 224.54 C554.63 224.42 555.97 224.31 557.30 224.20 C558.63 224.09 559.97 223.98 561.30 223.88 C562.63 223.78 563.97 223.68 565.30 223.59 C566.63 223.50 567.97 223.41 569.30 223.34 C570.63 223.26 571.97 223.19 573.30 223.13 C574.63 223.08 575.97 223.03 577.30 222.99 C578.63 222.95 579.97 222.93 581.30 222.91 C582.63 222.90 583.97 222.90 585.30 222.91 C586.63 222.93 587.97 222.96 589.30 223.00 C590.63 223.05 591.97 223.11 593.30 223.19 C594.63 223.27 595.97 223.36 597.30 223.48 C598.63 223.60 600.53 223.81 601.30 223.89 C602.07 223.97 601.80 223.95 601.90 223.96" stroke="#3f7d06" stroke-width="2.60" fill="none" stroke-linecap="butt" stroke-linejoin="round"/>
<path d="M49.30 305.00 C49.97 305.01 51.97 305.04 53.30 305.05 C54.63 305.07 55.97 305.09 57.30 305.10 C58.63 305.11 59.97 305.13 61.30 305.14 C62.63 305.15 63.97 305.17 65.30 305.18 C66.63 305.19 67.97 305.20 69.30 305.21 C70.63 305.22 71.97 305.23 73.30 305.23 C74.63 305.24 75.97 305.25 77.30 305.25 C78.63 305.26 79.97 305.27 81.30 305.27 C82.63 305.27 83.97 305.28 85.30 305.28 C86.63 305.28 87.97 305.28 89.30 305.28 C90.63 305.28 91.97 305.28 93.30 305.28 C94.63 305.28 95.97 305.28 97.30 305.27 C98.63 305.27 99.97 305.27 101.30 305.26 C102.63 305.25 103.97 305.25 105.30 305.24 C106.63 305.23 107.97 305.22 109.30 305.21 C110.63 305.20 111.97 305.19 113.30 305.18 C114.63 305.17 115.97 305.16 117.30 305.14 C118.63 305.13 119.97 305.11 121.30 305.10 C122.63 305.08 123.97 305.06 125.30 305.05 C126.63 305.03 127.97 305.01 129.30 304.99 C130.63 304.97 131.97 304.95 133.30 304.92 C134.63 304.90 135.97 304.88 137.30 304.85 C138.63 304.83 139.97 304.80 141.30 304.77 C142.63 304.74 143.97 304.71 145.30 304.68 C146.63 304.65 147.97 304.62 149.30 304.59 C150.63 304.56 151.97 304.52 153.30 304.49 C154.63 304.46 155.97 304.42 157.30 304.38 C158.63 304.34 159.97 304.31 161.30 304.27 C162.63 304.23 163.97 304.18 165.30 304.14 C166.63 304.10 167.97 304.05 169.30 304.01 C170.63 303.96 171.97 303.92 173.30 303.87 C174.63 303.82 175.97 303.77 177.30 303.72 C178.63 303.67 179.97 303.62 181.30 303.57 C182.63 303.51 183.97 303.46 185.30 303.40 C186.63 303.35 187.97 303.29 189.30 303.23 C190.63 303.17 191.97 303.11 193.30 303.05 C194.63 302.99 195.97 302.92 197.30 302.86 C198.63 302.79 199.97 302.73 201.30 302.66 C202.63 302.59 203.97 302.53 205.30 302.45 C206.63 302.38 207.97 302.31 209.30 302.24 C210.63 302.16 211.97 302.08 213.30 302.00 C214.63 301.92 215.97 301.84 217.30 301.75 C218.63 301.66 219.97 301.57 221.30 301.47 C222.63 301.37 223.97 301.27 225.30 301.16 C226.63 301.06 227.97 300.94 229.30 300.82 C230.63 300.70 231.97 300.58 233.30 300.44 C234.63 300.31 235.97 300.17 237.30 300.02 C238.63 299.87 239.97 299.72 241.30 299.55 C242.63 299.39 243.97 299.21 245.30 299.03 C246.63 298.85 247.97 298.66 249.30 298.45 C250.63 298.25 251.97 298.04 253.30 297.81 C254.63 297.59 255.97 297.35 257.30 297.11 C258.63 296.86 259.97 296.60 261.30 296.33 C262.63 296.06 263.97 295.78 265.30 295.48 C266.63 295.18 267.97 294.87 269.30 294.55 C270.63 294.22 271.97 293.89 273.30 293.53 C274.63 293.18 275.97 292.81 277.30 292.42 C278.63 292.03 279.97 291.62 281.30 291.18 C282.63 290.74 283.97 290.27 285.30 289.76 C286.63 289.25 287.97 288.71 289.30 288.12 C290.63 287.53 291.97 286.90 293.30 286.21 C294.63 285.52 295.97 284.79 297.30 283.99 C298.63 283.19 299.97 282.34 301.30 281.41 C302.63 280.48 303.97 279.49 305.30 278.42 C306.63 277.35 307.97 276.20 309.30 274.98 C310.63 273.77 311.97 272.46 313.30 271.12 C314.63 269.78 315.97 268.36 317.30 266.93 C318.63 265.49 319.97 264.00 321.30 262.50 C322.63 261.00 323.97 259.47 325.30 257.94 C326.63 256.42 327.97 254.87 329.30 253.35 C330.63 251.83 331.97 250.31 333.30 248.82 C334.63 247.34 335.97 245.86 337.30 244.46 C338.63 243.07 339.97 241.68 341.30 240.43 C342.63 239.19 343.97 238.00 345.30 237.01 C346.63 236.02 347.97 235.13 349.30 234.49 C350.63 233.84 351.97 233.38 353.30 233.14 C354.63 232.90 355.97 232.92 357.30 233.06 C358.63 233.19 359.97 233.55 361.30 233.96 C362.63 234.38 363.97 234.96 365.30 235.54 C366.63 236.13 367.97 236.82 369.30 237.49 C370.63 238.15 371.97 238.84 373.30 239.52 C374.63 240.20 375.97 240.89 377.30 241.57 C378.63 242.25 379.97 242.94 381.30 243.61 C382.63 244.29 383.97 244.96 385.30 245.62 C386.63 246.28 387.97 246.94 389.30 247.58 C390.63 248.22 391.97 248.84 393.30 249.45 C394.63 250.06 395.97 250.65 397.30 251.22 C398.63 251.79 399.97 252.34 401.30 252.86 C402.63 253.39 403.97 253.89 405.30 254.36 C406.63 254.84 407.97 255.30 409.30 255.73 C410.63 256.16 411.97 256.57 413.30 256.97 C414.63 257.36 415.97 257.73 417.30 258.08 C418.63 258.43 419.97 258.76 421.30 259.07 C422.63 259.38 423.97 259.67 425.30 259.95 C426.63 260.22 427.97 260.48 429.30 260.72 C430.63 260.96 431.97 261.18 433.30 261.39 C434.63 261.60 435.97 261.79 437.30 261.96 C438.63 262.14 439.97 262.30 441.30 262.45 C442.63 262.59 443.97 262.73 445.30 262.84 C446.63 262.96 447.97 263.07 449.30 263.16 C450.63 263.26 451.97 263.34 453.30 263.41 C454.63 263.48 455.97 263.53 457.30 263.58 C458.63 263.63 459.97 263.67 461.30 263.69 C462.63 263.72 463.97 263.74 465.30 263.75 C466.63 263.76 467.97 263.76 469.30 263.75 C470.63 263.74 471.97 263.72 473.30 263.70 C474.63 263.67 475.97 263.64 477.30 263.60 C478.63 263.56 479.97 263.51 481.30 263.46 C482.63 263.41 483.97 263.35 485.30 263.28 C486.63 263.22 487.97 263.15 489.30 263.07 C490.63 263.00 491.97 262.91 493.30 262.83 C494.63 262.74 495.97 262.65 497.30 262.56 C498.63 262.47 499.97 262.37 501.30 262.27 C502.63 262.17 503.97 262.06 505.30 261.95 C506.63 261.85 507.97 261.74 509.30 261.63 C510.63 261.52 511.97 261.40 513.30 261.29 C514.63 261.17 515.97 261.06 517.30 260.94 C518.63 260.83 519.97 260.71 521.30 260.59 C522.63 260.47 523.97 260.36 525.30 260.24 C526.63 260.13 527.97 260.01 529.30 259.90 C530.63 259.78 531.97 259.67 533.30 259.56 C534.63 259.45 535.97 259.34 537.30 259.23 C538.63 259.13 539.97 259.02 541.30 258.92 C542.63 258.82 543.97 258.72 545.30 258.63 C546.63 258.54 547.97 258.45 549.30 258.36 C550.63 258.28 551.97 258.20 553.30 258.12 C554.63 258.05 555.97 257.98 557.30 257.92 C558.63 257.85 559.97 257.79 561.30 257.74 C562.63 257.69 563.97 257.64 565.30 257.61 C566.63 257.57 567.97 257.54 569.30 257.52 C570.63 257.49 571.97 257.48 573.30 257.47 C574.63 257.46 575.97 257.46 577.30 257.48 C578.63 257.49 579.97 257.51 581.30 257.54 C582.63 257.57 583.97 257.60 585.30 257.65 C586.63 257.70 587.97 257.76 589.30 257.83 C590.63 257.91 591.97 257.99 593.30 258.08 C594.63 258.18 595.97 258.28 597.30 258.40 C598.63 258.52 600.53 258.71 601.30 258.79 C602.07 258.86 601.80 258.84 601.90 258.85" stroke="#23599a" stroke-width="2.60" fill="none" stroke-linecap="butt" stroke-linejoin="round"/>
<path d="M49.30 340.59 C49.97 340.60 51.97 340.63 53.30 340.65 C54.63 340.66 55.97 340.68 57.30 340.69 C58.63 340.70 59.97 340.71 61.30 340.72 C62.63 340.73 63.97 340.74 65.30 340.75 C66.63 340.75 67.97 340.75 69.30 340.76 C70.63 340.76 71.97 340.76 73.30 340.76 C74.63 340.75 75.97 340.75 77.30 340.74 C78.63 340.74 79.97 340.73 81.30 340.72 C82.63 340.72 83.97 340.71 85.30 340.70 C86.63 340.68 87.97 340.67 89.30 340.66 C90.63 340.64 91.97 340.63 93.30 340.61 C94.63 340.59 95.97 340.57 97.30 340.56 C98.63 340.54 99.97 340.52 101.30 340.49 C102.63 340.47 103.97 340.45 105.30 340.42 C106.63 340.40 107.97 340.37 109.30 340.35 C110.63 340.32 111.97 340.29 113.30 340.27 C114.63 340.24 115.97 340.21 117.30 340.18 C118.63 340.15 119.97 340.11 121.30 340.08 C122.63 340.05 123.97 340.02 125.30 339.98 C126.63 339.95 127.97 339.92 129.30 339.88 C130.63 339.85 131.97 339.81 133.30 339.77 C134.63 339.74 135.97 339.70 137.30 339.66 C138.63 339.62 139.97 339.59 141.30 339.55 C142.63 339.51 143.97 339.47 145.30 339.43 C146.63 339.39 147.97 339.35 149.30 339.31 C150.63 339.27 151.97 339.23 153.30 339.19 C154.63 339.15 155.97 339.10 157.30 339.06 C158.63 339.02 159.97 338.98 161.30 338.94 C162.63 338.90 163.97 338.85 165.30 338.81 C166.63 338.77 167.97 338.73 169.30 338.69 C170.63 338.64 171.97 338.60 173.30 338.56 C174.63 338.52 175.97 338.48 177.30 338.43 C178.63 338.39 179.97 338.35 181.30 338.31 C182.63 338.27 183.97 338.23 185.30 338.19 C186.63 338.15 187.97 338.11 189.30 338.07 C190.63 338.03 191.97 337.99 193.30 337.95 C194.63 337.91 195.97 337.87 197.30 337.83 C198.63 337.79 199.97 337.75 201.30 337.72 C202.63 337.68 203.97 337.64 205.30 337.61 C206.63 337.57 207.97 337.53 209.30 337.50 C210.63 337.46 211.97 337.42 213.30 337.38 C214.63 337.33 215.97 337.29 217.30 337.24 C218.63 337.19 219.97 337.13 221.30 337.07 C222.63 337.01 223.97 336.95 225.30 336.87 C226.63 336.80 227.97 336.72 229.30 336.63 C230.63 336.54 231.97 336.44 233.30 336.33 C234.63 336.22 235.97 336.10 237.30 335.97 C238.63 335.84 239.97 335.69 241.30 335.54 C242.63 335.38 243.97 335.21 245.30 335.02 C246.63 334.84 247.97 334.64 249.30 334.42 C250.63 334.20 251.97 333.97 253.30 333.72 C254.63 333.47 255.97 333.20 257.30 332.91 C258.63 332.62 259.97 332.32 261.30 331.99 C262.63 331.66 263.97 331.31 265.30 330.94 C266.63 330.56 267.97 330.17 269.30 329.75 C270.63 329.33 271.97 328.89 273.30 328.43 C274.63 327.96 275.97 327.47 277.30 326.94 C278.63 326.42 279.97 325.87 281.30 325.28 C282.63 324.69 283.97 324.07 285.30 323.41 C286.63 322.74 287.97 322.04 289.30 321.29 C290.63 320.54 291.97 319.75 293.30 318.90 C294.63 318.06 295.97 317.17 297.30 316.21 C298.63 315.26 299.97 314.26 301.30 313.19 C302.63 312.12 303.97 311.00 305.30 309.80 C306.63 308.61 307.97 307.34 309.30 306.03 C310.63 304.71 311.97 303.31 313.30 301.90 C314.63 300.50 315.97 299.03 317.30 297.57 C318.63 296.11 319.97 294.62 321.30 293.16 C322.63 291.71 323.97 290.23 325.30 288.82 C326.63 287.41 327.97 286.00 329.30 284.68 C330.63 283.35 331.97 282.06 333.30 280.87 C334.63 279.68 335.97 278.56 337.30 277.54 C338.63 276.53 339.97 275.61 341.30 274.79 C342.63 273.98 343.97 273.26 345.30 272.66 C346.63 272.06 347.97 271.56 349.30 271.18 C350.63 270.80 351.97 270.54 353.30 270.39 C354.63 270.24 355.97 270.22 357.30 270.28 C358.63 270.35 359.97 270.53 361.30 270.77 C362.63 271.02 363.97 271.37 365.30 271.77 C366.63 272.17 367.97 272.65 369.30 273.18 C370.63 273.70 371.97 274.29 373.30 274.91 C374.63 275.53 375.97 276.20 377.30 276.89 C378.63 277.58 379.97 278.31 381.30 279.04 C382.63 279.78 383.97 280.54 385.30 281.30 C386.63 282.06 387.97 282.84 389.30 283.60 C390.63 284.36 391.97 285.12 393.30 285.86 C394.63 286.59 395.97 287.32 397.30 288.01 C398.63 288.70 399.97 289.37 401.30 289.99 C402.63 290.61 403.97 291.19 405.30 291.73 C406.63 292.27 407.97 292.77 409.30 293.24 C410.63 293.70 411.97 294.13 413.30 294.53 C414.63 294.92 415.97 295.28 417.30 295.62 C418.63 295.95 419.97 296.25 421.30 296.52 C422.63 296.79 423.97 297.04 425.30 297.26 C426.63 297.48 427.97 297.67 429.30 297.84 C430.63 298.01 431.97 298.16 433.30 298.28 C434.63 298.41 435.97 298.52 437.30 298.61 C438.63 298.70 439.97 298.77 441.30 298.83 C442.63 298.89 443.97 298.93 445.30 298.96 C446.63 299.00 447.97 299.01 449.30 299.03 C450.63 299.04 451.97 299.03 453.30 299.03 C454.63 299.02 455.97 299.01 457.30 298.99 C458.63 298.98 459.97 298.96 461.30 298.94 C462.63 298.91 463.97 298.89 465.30 298.86 C466.63 298.84 467.97 298.81 469.30 298.78 C470.63 298.75 471.97 298.72 473.30 298.68 C474.63 298.65 475.97 298.61 477.30 298.57 C478.63 298.53 479.97 298.49 481.30 298.45 C482.63 298.40 483.97 298.36 485.30 298.31 C486.63 298.26 487.97 298.21 489.30 298.16 C490.63 298.11 491.97 298.06 493.30 298.00 C494.63 297.94 495.97 297.88 497.30 297.82 C498.63 297.76 499.97 297.70 501.30 297.64 C502.63 297.57 503.97 297.50 505.30 297.43 C506.63 297.37 507.97 297.29 509.30 297.22 C510.63 297.15 511.97 297.07 513.30 296.99 C514.63 296.91 515.97 296.83 517.30 296.75 C518.63 296.67 519.97 296.59 521.30 296.50 C522.63 296.41 523.97 296.32 525.30 296.23 C526.63 296.14 527.97 296.05 529.30 295.95 C530.63 295.86 531.97 295.76 533.30 295.66 C534.63 295.56 535.97 295.46 537.30 295.35 C538.63 295.25 539.97 295.14 541.30 295.04 C542.63 294.93 543.97 294.83 545.30 294.72 C546.63 294.62 547.97 294.52 549.30 294.42 C550.63 294.32 551.97 294.22 553.30 294.13 C554.63 294.04 555.97 293.96 557.30 293.88 C558.63 293.80 559.97 293.72 561.30 293.66 C562.63 293.59 563.97 293.53 565.30 293.48 C566.63 293.43 567.97 293.39 569.30 293.36 C570.63 293.34 571.97 293.32 573.30 293.31 C574.63 293.31 575.97 293.31 577.30 293.33 C578.63 293.35 579.97 293.39 581.30 293.44 C582.63 293.49 583.97 293.55 585.30 293.63 C586.63 293.72 587.97 293.82 589.30 293.93 C590.63 294.05 591.97 294.19 593.30 294.34 C594.63 294.50 595.97 294.68 597.30 294.87 C598.63 295.07 600.53 295.41 601.30 295.54 C602.07 295.66 601.80 295.63 601.90 295.65" stroke="#1f1f1f" stroke-width="2.60" fill="none" stroke-linecap="butt" stroke-linejoin="round"/>
<path d="M49.30 376.10 C49.97 376.11 51.97 376.13 53.30 376.14 C54.63 376.16 55.97 376.17 57.30 376.18 C58.63 376.19 59.97 376.20 61.30 376.21 C62.63 376.22 63.97 376.23 65.30 376.23 C66.63 376.24 67.97 376.25 69.30 376.25 C70.63 376.25 71.97 376.26 73.30 376.26 C74.63 376.26 75.97 376.26 77.30 376.26 C78.63 376.26 79.97 376.26 81.30 376.26 C82.63 376.25 83.97 376.25 85.30 376.25 C86.63 376.24 87.97 376.24 89.30 376.23 C90.63 376.22 91.97 376.21 93.30 376.20 C94.63 376.20 95.97 376.19 97.30 376.17 C98.63 376.16 99.97 376.15 101.30 376.14 C102.63 376.13 103.97 376.11 105.30 376.10 C106.63 376.08 107.97 376.07 109.30 376.05 C110.63 376.03 111.97 376.01 113.30 375.99 C114.63 375.98 115.97 375.96 117.30 375.93 C118.63 375.91 119.97 375.89 121.30 375.87 C122.63 375.85 123.97 375.82 125.30 375.80 C126.63 375.77 127.97 375.75 129.30 375.72 C130.63 375.70 131.97 375.67 133.30 375.64 C134.63 375.61 135.97 375.58 137.30 375.55 C138.63 375.52 139.97 375.49 141.30 375.46 C142.63 375.43 143.97 375.39 145.30 375.36 C146.63 375.33 147.97 375.29 149.30 375.26 C150.63 375.22 151.97 375.19 153.30 375.15 C154.63 375.11 155.97 375.08 157.30 375.04 C158.63 375.00 159.97 374.96 161.30 374.92 C162.63 374.88 163.97 374.84 165.30 374.80 C166.63 374.75 167.97 374.71 169.30 374.67 C170.63 374.63 171.97 374.58 173.30 374.54 C174.63 374.49 175.97 374.45 177.30 374.40 C178.63 374.35 179.97 374.31 181.30 374.26 C182.63 374.21 183.97 374.16 185.30 374.12 C186.63 374.07 187.97 374.02 189.30 373.97 C190.63 373.92 191.97 373.86 193.30 373.81 C194.63 373.76 195.97 373.71 197.30 373.66 C198.63 373.60 199.97 373.55 201.30 373.49 C202.63 373.44 203.97 373.39 205.30 373.33 C206.63 373.27 207.97 373.22 209.30 373.16 C210.63 373.10 211.97 373.04 213.30 372.97 C214.63 372.91 215.97 372.84 217.30 372.77 C218.63 372.70 219.97 372.62 221.30 372.54 C222.63 372.46 223.97 372.37 225.30 372.28 C226.63 372.18 227.97 372.09 229.30 371.98 C230.63 371.87 231.97 371.76 233.30 371.64 C234.63 371.51 235.97 371.38 237.30 371.24 C238.63 371.10 239.97 370.95 241.30 370.79 C242.63 370.63 243.97 370.46 245.30 370.28 C246.63 370.10 247.97 369.90 249.30 369.69 C250.63 369.49 251.97 369.27 253.30 369.04 C254.63 368.80 255.97 368.56 257.30 368.29 C258.63 368.03 259.97 367.76 261.30 367.47 C262.63 367.17 263.97 366.87 265.30 366.54 C266.63 366.22 267.97 365.88 269.30 365.52 C270.63 365.16 271.97 364.78 273.30 364.38 C274.63 363.99 275.97 363.58 277.30 363.13 C278.63 362.69 279.97 362.22 281.30 361.71 C282.63 361.20 283.97 360.67 285.30 360.07 C286.63 359.48 287.97 358.85 289.30 358.16 C290.63 357.46 291.97 356.72 293.30 355.91 C294.63 355.09 295.97 354.22 297.30 353.27 C298.63 352.32 299.97 351.30 301.30 350.19 C302.63 349.08 303.97 347.88 305.30 346.61 C306.63 345.35 307.97 344.00 309.30 342.62 C310.63 341.24 311.97 339.79 313.30 338.34 C314.63 336.89 315.97 335.39 317.30 333.92 C318.63 332.45 319.97 330.95 321.30 329.50 C322.63 328.05 323.97 326.60 325.30 325.22 C326.63 323.83 327.97 322.48 329.30 321.21 C330.63 319.93 331.97 318.71 333.30 317.56 C334.63 316.41 335.97 315.33 337.30 314.33 C338.63 313.33 339.97 312.40 341.30 311.57 C342.63 310.74 343.97 309.99 345.30 309.34 C346.63 308.70 347.97 308.14 349.30 307.70 C350.63 307.26 351.97 306.92 353.30 306.70 C354.63 306.48 355.97 306.38 357.30 306.40 C358.63 306.42 359.97 306.58 361.30 306.83 C362.63 307.08 363.97 307.46 365.30 307.90 C366.63 308.34 367.97 308.89 369.30 309.48 C370.63 310.07 371.97 310.74 373.30 311.42 C374.63 312.11 375.97 312.86 377.30 313.59 C378.63 314.33 379.97 315.11 381.30 315.85 C382.63 316.59 383.97 317.35 385.30 318.06 C386.63 318.76 387.97 319.45 389.30 320.10 C390.63 320.75 391.97 321.38 393.30 321.97 C394.63 322.57 395.97 323.14 397.30 323.68 C398.63 324.22 399.97 324.74 401.30 325.23 C402.63 325.72 403.97 326.18 405.30 326.62 C406.63 327.06 407.97 327.48 409.30 327.87 C410.63 328.27 411.97 328.64 413.30 328.99 C414.63 329.34 415.97 329.66 417.30 329.97 C418.63 330.28 419.97 330.56 421.30 330.83 C422.63 331.10 423.97 331.35 425.30 331.58 C426.63 331.81 427.97 332.02 429.30 332.21 C430.63 332.41 431.97 332.59 433.30 332.75 C434.63 332.91 435.97 333.06 437.30 333.19 C438.63 333.32 439.97 333.44 441.30 333.54 C442.63 333.65 443.97 333.73 445.30 333.81 C446.63 333.89 447.97 333.96 449.30 334.01 C450.63 334.07 451.97 334.11 453.30 334.15 C454.63 334.18 455.97 334.21 457.30 334.22 C458.63 334.24 459.97 334.25 461.30 334.25 C462.63 334.25 463.97 334.24 465.30 334.23 C466.63 334.21 467.97 334.19 469.30 334.17 C470.63 334.14 471.97 334.11 473.30 334.08 C474.63 334.05 475.97 334.01 477.30 333.97 C478.63 333.93 479.97 333.88 481.30 333.83 C482.63 333.78 483.97 333.73 485.30 333.67 C486.63 333.62 487.97 333.56 489.30 333.50 C490.63 333.44 491.97 333.38 493.30 333.31 C494.63 333.25 495.97 333.18 497.30 333.11 C498.63 333.04 499.97 332.97 501.30 332.90 C502.63 332.82 503.97 332.75 505.30 332.67 C506.63 332.60 507.97 332.52 509.30 332.45 C510.63 332.37 511.97 332.29 513.30 332.22 C514.63 332.14 515.97 332.06 517.30 331.99 C518.63 331.91 519.97 331.83 521.30 331.76 C522.63 331.68 523.97 331.61 525.30 331.53 C526.63 331.46 527.97 331.38 529.30 331.31 C530.63 331.24 531.97 331.17 533.30 331.10 C534.63 331.03 535.97 330.97 537.30 330.90 C538.63 330.84 539.97 330.78 541.30 330.72 C542.63 330.66 543.97 330.60 545.30 330.55 C546.63 330.50 547.97 330.45 549.30 330.40 C550.63 330.35 551.97 330.31 553.30 330.27 C554.63 330.23 555.97 330.20 557.30 330.16 C558.63 330.13 559.97 330.11 561.30 330.09 C562.63 330.06 563.97 330.05 565.30 330.03 C566.63 330.02 567.97 330.01 569.30 330.01 C570.63 330.01 571.97 330.01 573.30 330.02 C574.63 330.04 575.97 330.05 577.30 330.07 C578.63 330.10 579.97 330.12 581.30 330.16 C582.63 330.19 583.97 330.24 585.30 330.29 C586.63 330.33 587.97 330.39 589.30 330.45 C590.63 330.52 591.97 330.59 593.30 330.67 C594.63 330.75 595.97 330.84 597.30 330.93 C598.63 331.03 600.53 331.18 601.30 331.24 C602.07 331.30 601.80 331.29 601.90 331.29" stroke="#0b368f" stroke-width="2.60" fill="none" stroke-linecap="butt" stroke-linejoin="round"/>
<path d="M49.30 411.34 C49.97 411.35 51.97 411.36 53.30 411.37 C54.63 411.37 55.97 411.38 57.30 411.38 C58.63 411.39 59.97 411.39 61.30 411.39 C62.63 411.39 63.97 411.40 65.30 411.40 C66.63 411.40 67.97 411.40 69.30 411.40 C70.63 411.40 71.97 411.39 73.30 411.39 C74.63 411.39 75.97 411.38 77.30 411.38 C78.63 411.37 79.97 411.37 81.30 411.36 C82.63 411.36 83.97 411.35 85.30 411.34 C86.63 411.33 87.97 411.32 89.30 411.32 C90.63 411.31 91.97 411.29 93.30 411.28 C94.63 411.27 95.97 411.26 97.30 411.25 C98.63 411.23 99.97 411.22 101.30 411.21 C102.63 411.19 103.97 411.18 105.30 411.16 C106.63 411.14 107.97 411.13 109.30 411.11 C110.63 411.09 111.97 411.07 113.30 411.05 C114.63 411.04 115.97 411.02 117.30 411.00 C118.63 410.97 119.97 410.95 121.30 410.93 C122.63 410.91 123.97 410.89 125.30 410.86 C126.63 410.84 127.97 410.82 129.30 410.79 C130.63 410.77 131.97 410.74 133.30 410.72 C134.63 410.69 135.97 410.66 137.30 410.64 C138.63 410.61 139.97 410.58 141.30 410.55 C142.63 410.52 143.97 410.49 145.30 410.46 C146.63 410.43 147.97 410.40 149.30 410.37 C150.63 410.34 151.97 410.31 153.30 410.28 C154.63 410.24 155.97 410.21 157.30 410.18 C158.63 410.14 159.97 410.11 161.30 410.08 C162.63 410.04 163.97 410.01 165.30 409.97 C166.63 409.93 167.97 409.90 169.30 409.86 C170.63 409.82 171.97 409.79 173.30 409.75 C174.63 409.71 175.97 409.67 177.30 409.63 C178.63 409.60 179.97 409.56 181.30 409.52 C182.63 409.48 183.97 409.44 185.30 409.39 C186.63 409.35 187.97 409.31 189.30 409.27 C190.63 409.23 191.97 409.19 193.30 409.14 C194.63 409.10 195.97 409.06 197.30 409.01 C198.63 408.97 199.97 408.93 201.30 408.88 C202.63 408.84 203.97 408.79 205.30 408.74 C206.63 408.69 207.97 408.64 209.30 408.59 C210.63 408.54 211.97 408.48 213.30 408.42 C214.63 408.36 215.97 408.30 217.30 408.23 C218.63 408.16 219.97 408.09 221.30 408.01 C222.63 407.94 223.97 407.85 225.30 407.76 C226.63 407.68 227.97 407.58 229.30 407.48 C230.63 407.38 231.97 407.27 233.30 407.16 C234.63 407.04 235.97 406.92 237.30 406.79 C238.63 406.65 239.97 406.52 241.30 406.37 C242.63 406.22 243.97 406.06 245.30 405.89 C246.63 405.72 247.97 405.55 249.30 405.36 C250.63 405.17 251.97 404.97 253.30 404.76 C254.63 404.55 255.97 404.33 257.30 404.09 C258.63 403.86 259.97 403.61 261.30 403.35 C262.63 403.09 263.97 402.82 265.30 402.53 C266.63 402.24 267.97 401.95 269.30 401.63 C270.63 401.31 271.97 400.98 273.30 400.61 C274.63 400.23 275.97 399.84 277.30 399.40 C278.63 398.96 279.97 398.49 281.30 397.95 C282.63 397.42 283.97 396.84 285.30 396.19 C286.63 395.54 287.97 394.84 289.30 394.06 C290.63 393.27 291.97 392.43 293.30 391.49 C294.63 390.55 295.97 389.53 297.30 388.42 C298.63 387.31 299.97 386.09 301.30 384.81 C302.63 383.52 303.97 382.15 305.30 380.73 C306.63 379.32 307.97 377.84 309.30 376.34 C310.63 374.84 311.97 373.30 313.30 371.76 C314.63 370.23 315.97 368.66 317.30 367.13 C318.63 365.60 319.97 364.06 321.30 362.58 C322.63 361.11 323.97 359.64 325.30 358.26 C326.63 356.88 327.97 355.54 329.30 354.29 C330.63 353.04 331.97 351.85 333.30 350.75 C334.63 349.64 335.97 348.61 337.30 347.68 C338.63 346.74 339.97 345.88 341.30 345.13 C342.63 344.37 343.97 343.70 345.30 343.13 C346.63 342.57 347.97 342.10 349.30 341.75 C350.63 341.40 351.97 341.15 353.30 341.02 C354.63 340.89 355.97 340.87 357.30 340.98 C358.63 341.08 359.97 341.33 361.30 341.66 C362.63 341.99 363.97 342.45 365.30 342.97 C366.63 343.48 367.97 344.10 369.30 344.76 C370.63 345.42 371.97 346.15 373.30 346.90 C374.63 347.65 375.97 348.46 377.30 349.25 C378.63 350.04 379.97 350.87 381.30 351.66 C382.63 352.46 383.97 353.26 385.30 354.01 C386.63 354.76 387.97 355.48 389.30 356.17 C390.63 356.86 391.97 357.51 393.30 358.14 C394.63 358.76 395.97 359.35 397.30 359.92 C398.63 360.48 399.97 361.02 401.30 361.53 C402.63 362.03 403.97 362.51 405.30 362.97 C406.63 363.42 407.97 363.85 409.30 364.25 C410.63 364.65 411.97 365.03 413.30 365.38 C414.63 365.73 415.97 366.06 417.30 366.37 C418.63 366.67 419.97 366.96 421.30 367.22 C422.63 367.49 423.97 367.73 425.30 367.95 C426.63 368.18 427.97 368.38 429.30 368.57 C430.63 368.75 431.97 368.92 433.30 369.07 C434.63 369.23 435.97 369.36 437.30 369.48 C438.63 369.60 439.97 369.71 441.30 369.80 C442.63 369.89 443.97 369.97 445.30 370.03 C446.63 370.10 447.97 370.15 449.30 370.19 C450.63 370.23 451.97 370.26 453.30 370.29 C454.63 370.31 455.97 370.32 457.30 370.32 C458.63 370.33 459.97 370.32 461.30 370.31 C462.63 370.30 463.97 370.28 465.30 370.26 C466.63 370.24 467.97 370.20 469.30 370.17 C470.63 370.13 471.97 370.09 473.30 370.04 C474.63 370.00 475.97 369.94 477.30 369.89 C478.63 369.83 479.97 369.77 481.30 369.70 C482.63 369.63 483.97 369.56 485.30 369.49 C486.63 369.41 487.97 369.34 489.30 369.25 C490.63 369.17 491.97 369.09 493.30 369.00 C494.63 368.92 495.97 368.83 497.30 368.73 C498.63 368.64 499.97 368.55 501.30 368.45 C502.63 368.36 503.97 368.26 505.30 368.16 C506.63 368.07 507.97 367.97 509.30 367.87 C510.63 367.77 511.97 367.67 513.30 367.57 C514.63 367.47 515.97 367.37 517.30 367.28 C518.63 367.18 519.97 367.08 521.30 366.98 C522.63 366.89 523.97 366.79 525.30 366.70 C526.63 366.60 527.97 366.51 529.30 366.42 C530.63 366.33 531.97 366.24 533.30 366.16 C534.63 366.07 535.97 365.99 537.30 365.91 C538.63 365.84 539.97 365.76 541.30 365.69 C542.63 365.62 543.97 365.55 545.30 365.49 C546.63 365.43 547.97 365.37 549.30 365.31 C550.63 365.26 551.97 365.21 553.30 365.17 C554.63 365.13 555.97 365.09 557.30 365.06 C558.63 365.03 559.97 365.00 561.30 364.98 C562.63 364.97 563.97 364.95 565.30 364.95 C566.63 364.94 567.97 364.95 569.30 364.96 C570.63 364.97 571.97 364.98 573.30 365.01 C574.63 365.04 575.97 365.07 577.30 365.11 C578.63 365.16 579.97 365.21 581.30 365.27 C582.63 365.33 583.97 365.40 585.30 365.48 C586.63 365.56 587.97 365.65 589.30 365.75 C590.63 365.85 591.97 365.96 593.30 366.08 C594.63 366.21 595.97 366.34 597.30 366.48 C598.63 366.63 600.53 366.86 601.30 366.95 C602.07 367.04 601.80 367.01 601.90 367.03" stroke="#c0060c" stroke-width="2.60" fill="none" stroke-linecap="butt" stroke-linejoin="round"/>
<path d="M49.30 447.31 C49.97 447.31 51.97 447.31 53.30 447.31 C54.63 447.31 55.97 447.31 57.30 447.31 C58.63 447.30 59.97 447.30 61.30 447.30 C62.63 447.29 63.97 447.29 65.30 447.28 C66.63 447.27 67.97 447.27 69.30 447.26 C70.63 447.25 71.97 447.24 73.30 447.23 C74.63 447.22 75.97 447.21 77.30 447.20 C78.63 447.19 79.97 447.18 81.30 447.17 C82.63 447.16 83.97 447.14 85.30 447.13 C86.63 447.11 87.97 447.10 89.30 447.08 C90.63 447.07 91.97 447.05 93.30 447.04 C94.63 447.02 95.97 447.00 97.30 446.98 C98.63 446.96 99.97 446.94 101.30 446.92 C102.63 446.90 103.97 446.88 105.30 446.86 C106.63 446.84 107.97 446.82 109.30 446.79 C110.63 446.77 111.97 446.75 113.30 446.72 C114.63 446.70 115.97 446.67 117.30 446.65 C118.63 446.62 119.97 446.59 121.30 446.57 C122.63 446.54 123.97 446.51 125.30 446.48 C126.63 446.45 127.97 446.42 129.30 446.39 C130.63 446.36 131.97 446.33 133.30 446.30 C134.63 446.27 135.97 446.23 137.30 446.20 C138.63 446.17 139.97 446.13 141.30 446.10 C142.63 446.06 143.97 446.03 145.30 445.99 C146.63 445.96 147.97 445.92 149.30 445.88 C150.63 445.84 151.97 445.81 153.30 445.77 C154.63 445.73 155.97 445.69 157.30 445.65 C158.63 445.61 159.97 445.57 161.30 445.53 C162.63 445.48 163.97 445.44 165.30 445.40 C166.63 445.36 167.97 445.31 169.30 445.27 C170.63 445.22 171.97 445.18 173.30 445.13 C174.63 445.09 175.97 445.04 177.30 444.99 C178.63 444.95 179.97 444.90 181.30 444.85 C182.63 444.80 183.97 444.75 185.30 444.70 C186.63 444.65 187.97 444.60 189.30 444.55 C190.63 444.50 191.97 444.45 193.30 444.40 C194.63 444.35 195.97 444.29 197.30 444.24 C198.63 444.19 199.97 444.13 201.30 444.08 C202.63 444.02 203.97 443.97 205.30 443.91 C206.63 443.86 207.97 443.80 209.30 443.74 C210.63 443.68 211.97 443.63 213.30 443.57 C214.63 443.51 215.97 443.45 217.30 443.38 C218.63 443.32 219.97 443.25 221.30 443.18 C222.63 443.11 223.97 443.04 225.30 442.96 C226.63 442.87 227.97 442.79 229.30 442.70 C230.63 442.60 231.97 442.51 233.30 442.40 C234.63 442.29 235.97 442.18 237.30 442.05 C238.63 441.93 239.97 441.79 241.30 441.65 C242.63 441.50 243.97 441.35 245.30 441.18 C246.63 441.02 247.97 440.84 249.30 440.65 C250.63 440.46 251.97 440.25 253.30 440.04 C254.63 439.82 255.97 439.59 257.30 439.34 C258.63 439.09 259.97 438.83 261.30 438.55 C262.63 438.27 263.97 437.97 265.30 437.66 C266.63 437.34 267.97 437.01 269.30 436.66 C270.63 436.30 271.97 435.93 273.30 435.54 C274.63 435.15 275.97 434.74 277.30 434.30 C278.63 433.86 279.97 433.39 281.30 432.89 C282.63 432.38 283.97 431.85 285.30 431.26 C286.63 430.68 287.97 430.06 289.30 429.38 C290.63 428.70 291.97 427.98 293.30 427.19 C294.63 426.40 295.97 425.55 297.30 424.64 C298.63 423.72 299.97 422.75 301.30 421.69 C302.63 420.63 303.97 419.50 305.30 418.29 C306.63 417.08 307.97 415.77 309.30 414.42 C310.63 413.07 311.97 411.64 313.30 410.18 C314.63 408.73 315.97 407.22 317.30 405.71 C318.63 404.20 319.97 402.65 321.30 401.13 C322.63 399.61 323.97 398.08 325.30 396.59 C326.63 395.11 327.97 393.62 329.30 392.22 C330.63 390.81 331.97 389.43 333.30 388.14 C334.63 386.86 335.97 385.63 337.30 384.50 C338.63 383.38 339.97 382.33 341.30 381.39 C342.63 380.46 343.97 379.61 345.30 378.90 C346.63 378.18 347.97 377.57 349.30 377.10 C350.63 376.63 351.97 376.29 353.30 376.09 C354.63 375.88 355.97 375.82 357.30 375.87 C358.63 375.92 359.97 376.10 361.30 376.36 C362.63 376.62 363.97 377.00 365.30 377.44 C366.63 377.88 367.97 378.43 369.30 379.01 C370.63 379.60 371.97 380.27 373.30 380.96 C374.63 381.66 375.97 382.41 377.30 383.18 C378.63 383.95 379.97 384.76 381.30 385.57 C382.63 386.37 383.97 387.20 385.30 388.01 C386.63 388.81 387.97 389.63 389.30 390.40 C390.63 391.17 391.97 391.92 393.30 392.63 C394.63 393.34 395.97 394.01 397.30 394.65 C398.63 395.29 399.97 395.89 401.30 396.46 C402.63 397.03 403.97 397.57 405.30 398.08 C406.63 398.59 407.97 399.06 409.30 399.51 C410.63 399.96 411.97 400.37 413.30 400.76 C414.63 401.16 415.97 401.52 417.30 401.85 C418.63 402.19 419.97 402.50 421.30 402.79 C422.63 403.08 423.97 403.34 425.30 403.58 C426.63 403.82 427.97 404.03 429.30 404.23 C430.63 404.43 431.97 404.60 433.30 404.76 C434.63 404.92 435.97 405.06 437.30 405.18 C438.63 405.30 439.97 405.40 441.30 405.49 C442.63 405.58 443.97 405.65 445.30 405.70 C446.63 405.76 447.97 405.81 449.30 405.84 C450.63 405.87 451.97 405.89 453.30 405.90 C454.63 405.91 455.97 405.90 457.30 405.89 C458.63 405.88 459.97 405.86 461.30 405.84 C462.63 405.81 463.97 405.77 465.30 405.74 C466.63 405.70 467.97 405.65 469.30 405.60 C470.63 405.55 471.97 405.50 473.30 405.44 C474.63 405.39 475.97 405.33 477.30 405.26 C478.63 405.20 479.97 405.13 481.30 405.06 C482.63 404.99 483.97 404.91 485.30 404.84 C486.63 404.76 487.97 404.68 489.30 404.60 C490.63 404.52 491.97 404.44 493.30 404.35 C494.63 404.26 495.97 404.18 497.30 404.09 C498.63 404.00 499.97 403.91 501.30 403.82 C502.63 403.73 503.97 403.64 505.30 403.55 C506.63 403.45 507.97 403.36 509.30 403.27 C510.63 403.18 511.97 403.08 513.30 402.99 C514.63 402.90 515.97 402.80 517.30 402.71 C518.63 402.62 519.97 402.53 521.30 402.44 C522.63 402.35 523.97 402.26 525.30 402.17 C526.63 402.09 527.97 402.00 529.30 401.92 C530.63 401.83 531.97 401.75 533.30 401.67 C534.63 401.59 535.97 401.52 537.30 401.44 C538.63 401.37 539.97 401.30 541.30 401.23 C542.63 401.16 543.97 401.10 545.30 401.04 C546.63 400.97 547.97 400.92 549.30 400.86 C550.63 400.81 551.97 400.76 553.30 400.71 C554.63 400.67 555.97 400.63 557.30 400.59 C558.63 400.56 559.97 400.53 561.30 400.50 C562.63 400.48 563.97 400.45 565.30 400.44 C566.63 400.43 567.97 400.42 569.30 400.41 C570.63 400.41 571.97 400.41 573.30 400.42 C574.63 400.43 575.97 400.45 577.30 400.47 C578.63 400.50 579.97 400.53 581.30 400.57 C582.63 400.60 583.97 400.65 585.30 400.70 C586.63 400.75 587.97 400.82 589.30 400.88 C590.63 400.95 591.97 401.03 593.30 401.12 C594.63 401.20 595.97 401.30 597.30 401.40 C598.63 401.50 600.53 401.67 601.30 401.74 C602.07 401.80 601.80 401.78 601.90 401.79" stroke="#0d6a3a" stroke-width="2.60" fill="none" stroke-linecap="butt" stroke-linejoin="round"/>
<path d="M49.45 451.8 L49.45 5.1 L601.9 5.1 L601.9 451.8 Z" fill="none" stroke="#000" stroke-width="2.6" stroke-linejoin="miter"/>
<line x1="49.30" y1="451.80" x2="49.30" y2="460.80" stroke="#000" stroke-width="2.4"/>
<line x1="71.40" y1="451.80" x2="71.40" y2="456.00" stroke="#000" stroke-width="2.4"/>
<line x1="93.51" y1="451.80" x2="93.51" y2="456.00" stroke="#000" stroke-width="2.4"/>
<line x1="115.61" y1="451.80" x2="115.61" y2="456.00" stroke="#000" stroke-width="2.4"/>
<line x1="137.72" y1="451.80" x2="137.72" y2="456.00" stroke="#000" stroke-width="2.4"/>
<line x1="159.82" y1="451.80" x2="159.82" y2="460.80" stroke="#000" stroke-width="2.4"/>
<line x1="181.92" y1="451.80" x2="181.92" y2="456.00" stroke="#000" stroke-width="2.4"/>
<line x1="204.03" y1="451.80" x2="204.03" y2="456.00" stroke="#000" stroke-width="2.4"/>
<line x1="226.13" y1="451.80" x2="226.13" y2="456.00" stroke="#000" stroke-width="2.4"/>
<line x1="248.24" y1="451.80" x2="248.24" y2="456.00" stroke="#000" stroke-width="2.4"/>
<line x1="270.34" y1="451.80" x2="270.34" y2="460.80" stroke="#000" stroke-width="2.4"/>
<line x1="292.44" y1="451.80" x2="292.44" y2="456.00" stroke="#000" stroke-width="2.4"/>
<line x1="314.55" y1="451.80" x2="314.55" y2="456.00" stroke="#000" stroke-width="2.4"/>
<line x1="336.65" y1="451.80" x2="336.65" y2="456.00" stroke="#000" stroke-width="2.4"/>
<line x1="358.76" y1="451.80" x2="358.76" y2="456.00" stroke="#000" stroke-width="2.4"/>
<line x1="380.86" y1="451.80" x2="380.86" y2="460.80" stroke="#000" stroke-width="2.4"/>
<line x1="402.96" y1="451.80" x2="402.96" y2="456.00" stroke="#000" stroke-width="2.4"/>
<line x1="425.07" y1="451.80" x2="425.07" y2="456.00" stroke="#000" stroke-width="2.4"/>
<line x1="447.17" y1="451.80" x2="447.17" y2="456.00" stroke="#000" stroke-width="2.4"/>
<line x1="469.28" y1="451.80" x2="469.28" y2="456.00" stroke="#000" stroke-width="2.4"/>
<line x1="491.38" y1="451.80" x2="491.38" y2="460.80" stroke="#000" stroke-width="2.4"/>
<line x1="513.48" y1="451.80" x2="513.48" y2="456.00" stroke="#000" stroke-width="2.4"/>
<line x1="535.59" y1="451.80" x2="535.59" y2="456.00" stroke="#000" stroke-width="2.4"/>
<line x1="557.69" y1="451.80" x2="557.69" y2="456.00" stroke="#000" stroke-width="2.4"/>
<line x1="579.80" y1="451.80" x2="579.80" y2="456.00" stroke="#000" stroke-width="2.4"/>
<line x1="601.90" y1="451.80" x2="601.90" y2="460.80" stroke="#000" stroke-width="2.4"/>
<text x="49.30" y="481.8" text-anchor="middle" font-size="18.6">17120</text>
<text x="159.82" y="481.8" text-anchor="middle" font-size="18.6">17140</text>
<text x="270.34" y="481.8" text-anchor="middle" font-size="18.6">17160</text>
<text x="380.86" y="481.8" text-anchor="middle" font-size="18.6">17180</text>
<text x="491.38" y="481.8" text-anchor="middle" font-size="18.6">17200</text>
<text x="601.90" y="481.8" text-anchor="middle" font-size="18.6">17220</text>
<text x="53.5" y="79.8" font-size="25.30">CaUO<tspan font-size="16.60" dy="6.9">4</tspan></text>
<text x="53.5" y="118.1" font-size="25.30">UMo<tspan font-size="16.60" dy="6.9">2</tspan><tspan dy="-6.9">O</tspan><tspan font-size="16.60" dy="6.9">8</tspan></text>
<text x="53.5" y="152.0" font-size="25.30">LaUO<tspan font-size="16.60" dy="6.9">4</tspan></text>
<text x="53.5" y="189.3" font-size="25.30">USbO<tspan font-size="16.60" dy="6.9">5</tspan></text>
<text x="53.9" y="223.3" font-size="21.85">U<tspan font-size="15.05" dy="6.5">0.5</tspan><tspan dy="-6.5">Yb</tspan><tspan font-size="15.05" dy="6.5">0.5</tspan><tspan dy="-6.5">Ti</tspan><tspan font-size="15.05" dy="6.5">2</tspan><tspan dy="-6.5">O</tspan><tspan font-size="15.05" dy="6.5">6</tspan></text>
<text x="53.5" y="259.8" font-size="25.30">UTi<tspan font-size="16.60" dy="6.9">2</tspan><tspan dy="-6.9">O</tspan><tspan font-size="16.60" dy="6.9">6</tspan></text>
<text x="52.5" y="295.5" font-size="25.30">UO<tspan font-size="16.60" dy="6.9">2</tspan></text>
<text x="53.5" y="335.5" font-size="25.30">(d)</text>
<text x="53.5" y="370.3" font-size="25.30">(c)</text>
<text x="53.5" y="407.9" font-size="25.30">(b)</text>
<text x="53.5" y="441.4" font-size="25.30">(a)</text>
<text x="326.15" y="511.9" text-anchor="middle" font-size="22.9" textLength="124.2" lengthAdjust="spacingAndGlyphs">Energy (eV)</text>
<text transform="translate(22.9 217.5) rotate(-90)" text-anchor="middle" font-size="27.3" textLength="219.3" lengthAdjust="spacingAndGlyphs">Absorbance (a.u.)</text>
</svg>
</body></html>
